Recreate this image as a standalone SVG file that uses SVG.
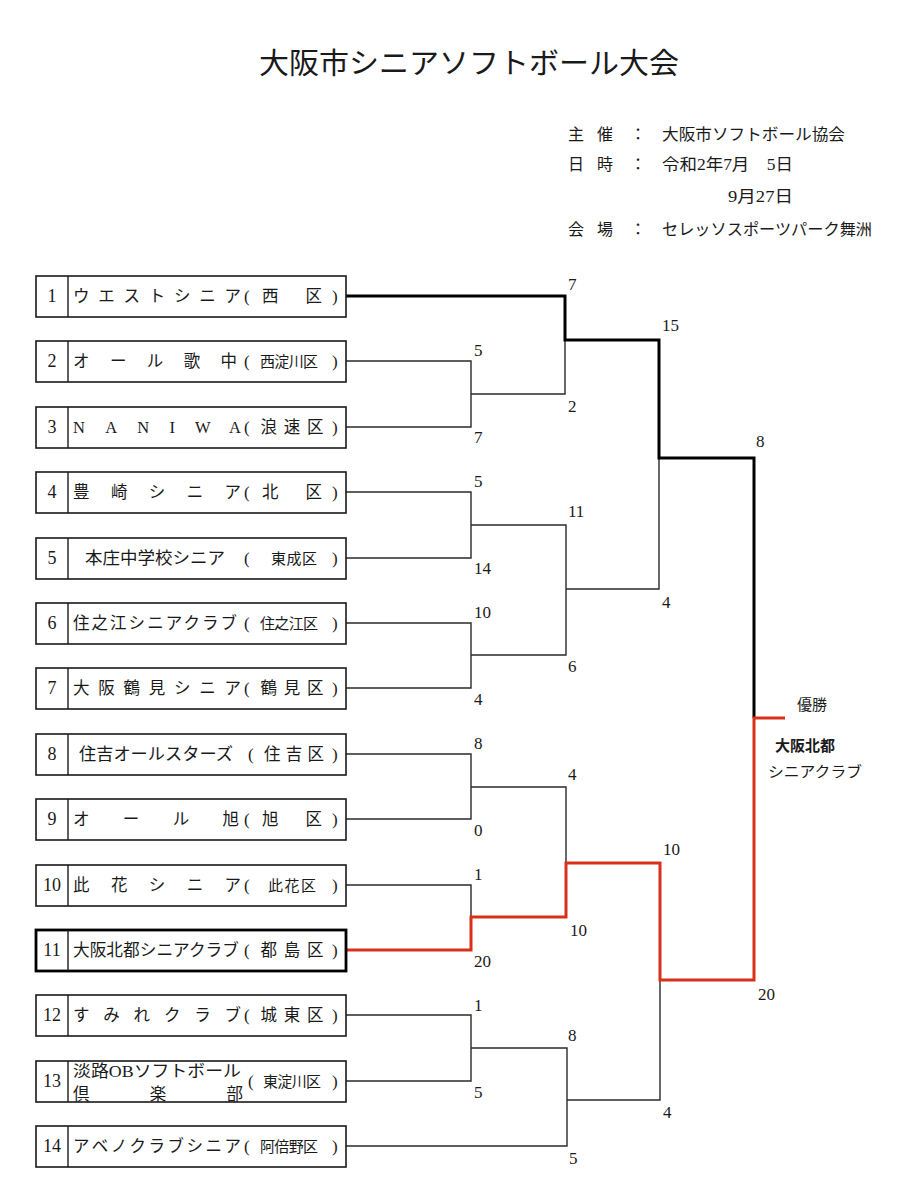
<svg xmlns="http://www.w3.org/2000/svg" width="910" height="1200" viewBox="0 0 910 1200">
<style>
text{font-family:"Liberation Serif","Noto Sans CJK JP",serif;fill:#1a1a1a}
.cj{font-family:"Noto Sans CJK JP","Liberation Sans",sans-serif}
.box{fill:#fff;stroke:#1a1a1a;stroke-width:1.6}
.box11{fill:#fff;stroke:#000;stroke-width:2.8}
.div{stroke:#1a1a1a;stroke-width:1.4}
.num{font-size:18px;text-anchor:middle}
.nm{font-size:16.5px}
.ds{font-size:16.5px;text-anchor:middle}
.dsm{font-size:15px;text-anchor:middle}
.pr{font-size:17px}
.sc{font-size:17px}
.thin{fill:none;stroke:#2a2a2a;stroke-width:1.4}
.thick{fill:none;stroke:#000;stroke-width:3}
.red{fill:none;stroke:#d9301a;stroke-width:3}
.hd{font-size:16px}
</style>
<rect width="910" height="1200" fill="#fff"/>
<g id="header">
<text class="cj" x="469" y="74" font-size="29" text-anchor="middle" textLength="420" lengthAdjust="spacingAndGlyphs">大阪市シニアソフトボール大会</text>
<text class="cj hd" x="568" y="140">主</text><text class="cj hd" x="597" y="140">催</text><text class="cj hd" x="630" y="140">：</text>
<text class="cj hd" x="662" y="140" textLength="183" lengthAdjust="spacingAndGlyphs">大阪市ソフトボール協会</text>
<text class="cj hd" x="568" y="170">日</text><text class="cj hd" x="597" y="170">時</text><text class="cj hd" x="630" y="170">：</text>
<text class="hd" x="662" y="170" textLength="131" lengthAdjust="spacingAndGlyphs">令和2年7月　5日</text>
<text class="hd" x="728" y="202" textLength="65" lengthAdjust="spacingAndGlyphs">9月27日</text>
<text class="cj hd" x="568" y="235">会</text><text class="cj hd" x="597" y="235">場</text><text class="cj hd" x="630" y="235">：</text>
<text class="cj hd" x="662" y="235" textLength="210" lengthAdjust="spacingAndGlyphs">セレッソスポーツパーク舞洲</text>
</g>

<g id="connectors">
<path class="thin" d="M346,361H471V427H346M471,394H565V340"/>
<path class="thin" d="M346,492H471V558H346M471,525H566V655H471M346,623H471V688H346M566,589H659V458"/>
<path class="thin" d="M346,754H471V819H346M471,787H566V863M346,885H471V917"/>
<path class="thin" d="M346,1015H471V1081H346M471,1048H567V1146H346M567,1100H660V980"/>
<path class="thick" d="M346,296H565V340H659V458H754V718"/>
<path class="red" d="M346,950H471V917H566V863H660V980H754V718H785"/>
</g>

<g id="scores">
<text class="sc" x="474" y="356">5</text><text class="sc" x="474" y="443">7</text>
<text class="sc" x="474" y="487">5</text><text class="sc" x="474" y="574">14</text>
<text class="sc" x="474" y="618">10</text><text class="sc" x="474" y="705">4</text>
<text class="sc" x="474" y="749">8</text><text class="sc" x="474" y="836">0</text>
<text class="sc" x="474" y="880">1</text><text class="sc" x="474" y="967">20</text>
<text class="sc" x="474" y="1011">1</text><text class="sc" x="474" y="1098">5</text>
<text class="sc" x="568" y="290">7</text><text class="sc" x="568" y="412">2</text>
<text class="sc" x="568" y="517">11</text><text class="sc" x="568" y="672">6</text>
<text class="sc" x="568" y="780">4</text><text class="sc" x="570" y="936">10</text>
<text class="sc" x="568" y="1041">8</text><text class="sc" x="569" y="1164">5</text>
<text class="sc" x="662" y="331">15</text><text class="sc" x="662" y="608">4</text>
<text class="sc" x="663" y="855">10</text><text class="sc" x="663" y="1118">4</text>
<text class="sc" x="756" y="447">8</text><text class="sc" x="758" y="1000">20</text>
</g>

<g id="team-1">
<rect class="box" x="36" y="276" width="310" height="41"/><line class="div" x1="68" y1="276" x2="68" y2="317"/>
<text class="num" x="52" y="302">1</text>
<text class="nm" x="73" y="302" textLength="168" lengthAdjust="spacing">ウエストシニア</text>
<text class="pr" x="244" y="302">(</text><text class="ds" x="292" y="302" textLength="60" lengthAdjust="spacing">西　区</text><text class="pr" x="332" y="302">)</text>
</g>
<g id="team-2">
<rect class="box" x="36" y="341" width="310" height="41"/><line class="div" x1="68" y1="341" x2="68" y2="382"/>
<text class="num" x="52" y="367">2</text>
<text class="nm" x="73" y="367" textLength="164" lengthAdjust="spacing">オール歌中</text>
<text class="pr" x="244" y="367">(</text><text class="dsm" x="289" y="367" textLength="58" lengthAdjust="spacing">西淀川区</text><text class="pr" x="332" y="367">)</text>
</g>
<g id="team-3">
<rect class="box" x="36" y="407" width="310" height="41"/><line class="div" x1="68" y1="407" x2="68" y2="448"/>
<text class="num" x="52" y="433">3</text>
<text class="nm" x="73" y="433" textLength="168" lengthAdjust="spacing">NANIWA</text>
<text class="pr" x="244" y="433">(</text><text class="ds" x="292" y="433" textLength="63" lengthAdjust="spacing">浪速区</text><text class="pr" x="332" y="433">)</text>
</g>
<g id="team-4">
<rect class="box" x="36" y="472" width="310" height="41"/><line class="div" x1="68" y1="472" x2="68" y2="513"/>
<text class="num" x="52" y="498">4</text>
<text class="nm" x="73" y="498" textLength="168" lengthAdjust="spacing">豊崎シニア</text>
<text class="pr" x="244" y="498">(</text><text class="ds" x="292" y="498" textLength="60" lengthAdjust="spacing">北　区</text><text class="pr" x="332" y="498">)</text>
</g>
<g id="team-5">
<rect class="box" x="36" y="538" width="310" height="41"/><line class="div" x1="68" y1="538" x2="68" y2="579"/>
<text class="num" x="52" y="564">5</text>
<text class="nm" x="85" y="564" textLength="140" lengthAdjust="spacingAndGlyphs">本庄中学校シニア</text>
<text class="pr" x="244" y="564">(</text><text class="dsm" x="294" y="564" textLength="46" lengthAdjust="spacing">東成区</text><text class="pr" x="332" y="564">)</text>
</g>
<g id="team-6">
<rect class="box" x="36" y="603" width="310" height="41"/><line class="div" x1="68" y1="603" x2="68" y2="644"/>
<text class="num" x="52" y="629">6</text>
<text class="nm" x="73" y="629" textLength="164" lengthAdjust="spacing">住之江シニアクラブ</text>
<text class="pr" x="244" y="629">(</text><text class="dsm" x="289" y="629" textLength="58" lengthAdjust="spacing">住之江区</text><text class="pr" x="332" y="629">)</text>
</g>
<g id="team-7">
<rect class="box" x="36" y="668" width="310" height="41"/><line class="div" x1="68" y1="668" x2="68" y2="709"/>
<text class="num" x="52" y="694">7</text>
<text class="nm" x="73" y="694" textLength="168" lengthAdjust="spacing">大阪鶴見シニア</text>
<text class="pr" x="244" y="694">(</text><text class="ds" x="292" y="694" textLength="63" lengthAdjust="spacing">鶴見区</text><text class="pr" x="332" y="694">)</text>
</g>
<g id="team-8">
<rect class="box" x="36" y="734" width="310" height="41"/><line class="div" x1="68" y1="734" x2="68" y2="775"/>
<text class="num" x="52" y="760">8</text>
<text class="nm" x="79" y="760" textLength="154" lengthAdjust="spacingAndGlyphs">住吉オールスターズ</text>
<text class="pr" x="248" y="760">(</text><text class="ds" x="294" y="760" textLength="60" lengthAdjust="spacing">住吉区</text><text class="pr" x="332" y="760">)</text>
</g>
<g id="team-9">
<rect class="box" x="36" y="799" width="310" height="41"/><line class="div" x1="68" y1="799" x2="68" y2="840"/>
<text class="num" x="52" y="825">9</text>
<text class="nm" x="73" y="825" textLength="166" lengthAdjust="spacing">オール旭</text>
<text class="pr" x="244" y="825">(</text><text class="ds" x="292" y="825" textLength="60" lengthAdjust="spacing">旭　区</text><text class="pr" x="332" y="825">)</text>
</g>
<g id="team-10">
<rect class="box" x="36" y="865" width="310" height="41"/><line class="div" x1="68" y1="865" x2="68" y2="906"/>
<text class="num" x="52" y="891">10</text>
<text class="nm" x="73" y="891" textLength="168" lengthAdjust="spacing">此花シニア</text>
<text class="pr" x="244" y="891">(</text><text class="dsm" x="292" y="891" textLength="48" lengthAdjust="spacing">此花区</text><text class="pr" x="332" y="891">)</text>
</g>
<g id="team-11">
<rect class="box11" x="36" y="930" width="310" height="41"/><line class="div" x1="68" y1="930" x2="68" y2="971"/>
<text class="num" x="52" y="956">11</text>
<text class="nm" x="73" y="956" textLength="166" lengthAdjust="spacingAndGlyphs">大阪北都シニアクラブ</text>
<text class="pr" x="244" y="956">(</text><text class="ds" x="292" y="956" textLength="63" lengthAdjust="spacing">都島区</text><text class="pr" x="332" y="956">)</text>
</g>
<g id="team-12">
<rect class="box" x="36" y="995" width="310" height="41"/><line class="div" x1="68" y1="995" x2="68" y2="1036"/>
<text class="num" x="52" y="1021">12</text>
<text class="nm" x="73" y="1021" textLength="168" lengthAdjust="spacing">すみれクラブ</text>
<text class="pr" x="244" y="1021">(</text><text class="ds" x="292" y="1021" textLength="63" lengthAdjust="spacing">城東区</text><text class="pr" x="332" y="1021">)</text>
</g>
<g id="team-13">
<rect class="box" x="36" y="1061" width="310" height="41"/><line class="div" x1="68" y1="1061" x2="68" y2="1102"/>
<text class="num" x="52" y="1087">13</text>
<text class="nm" x="73" y="1077" textLength="168" lengthAdjust="spacingAndGlyphs">淡路OBソフトボール</text>
<text class="nm" x="73" y="1100" textLength="170" lengthAdjust="spacing">倶楽部</text>
<text class="pr" x="248" y="1087">(</text><text class="dsm" x="292" y="1087" textLength="58" lengthAdjust="spacing">東淀川区</text><text class="pr" x="332" y="1087">)</text>
</g>
<g id="team-14">
<rect class="box" x="36" y="1126" width="310" height="41"/><line class="div" x1="68" y1="1126" x2="68" y2="1167"/>
<text class="num" x="52" y="1152">14</text>
<text class="nm" x="73" y="1152" textLength="168" lengthAdjust="spacing">アベノクラブシニア</text>
<text class="pr" x="244" y="1152">(</text><text class="dsm" x="289" y="1152" textLength="58" lengthAdjust="spacing">阿倍野区</text><text class="pr" x="332" y="1152">)</text>
</g>

<g id="winner">
<text class="cj" x="797" y="710" font-size="15">優勝</text>
<text class="cj" x="775" y="751" font-size="15" font-weight="bold" textLength="60" lengthAdjust="spacingAndGlyphs">大阪北都</text>
<text class="cj" x="768" y="777" font-size="15" textLength="94" lengthAdjust="spacingAndGlyphs">シニアクラブ</text>
</g>
</svg>
